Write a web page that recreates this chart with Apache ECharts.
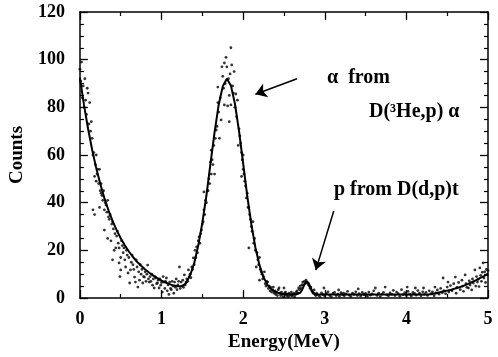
<!DOCTYPE html>
<html>
<head>
<meta charset="utf-8">
<script src="https://cdn.jsdelivr.net/npm/echarts@6/dist/echarts.min.js"></script>
<style>
html,body{margin:0;padding:0;background:#fff;}
#chart{width:498px;height:357px;}
</style>
</head>
<body>
<div id="chart"></div>
<script>
// ---- data ----
const xTicks = [0, 1, 2, 3, 4, 5];
const yTicks = [0, 20, 40, 60, 80, 100, 120];

const fitEnergy = [0,0.05,0.1,0.15,0.2,0.25,0.3,0.35,0.4,0.45,0.5,0.55,0.6,0.65,0.7,0.75,0.8,0.85,0.9,0.95,
  1.0,1.05,1.1,1.15,1.2,1.25,1.3,1.35,1.4,1.45,1.5,1.55,1.6,1.65,1.7,1.75,1.8,1.85,1.9,1.95,
  2.0,2.05,2.1,2.15,2.2,2.25,2.3,2.35,2.4,2.45,2.5,2.55,2.6,2.65,2.7,2.725,2.75,2.775,2.8,2.825,2.85,2.875,2.9,2.95,
  3.0,3.25,3.5,3.75,4.0,4.25,4.3,4.35,4.4,4.45,4.5,4.55,4.6,4.65,4.7,4.75,4.8,4.85,4.9,4.95,5.0];
const fitCounts = [92.5,81.0,71.0,62.2,54.5,47.8,41.9,36.8,32.4,28.5,25.1,22.1,19.5,17.2,15.2,13.5,12.0,10.6,9.4,8.3,
  7.3,6.5,5.8,5.2,4.9,5.0,6.2,9.5,14.5,22.0,31.5,43.0,56.5,69.5,81.0,88.8,92.0,89.2,81.4,69.9,
  56.5,43.0,31.0,21.2,13.8,8.7,5.4,3.5,2.5,1.9,1.7,1.6,1.5,1.6,2.2,3.6,5.6,7.0,6.4,4.4,2.7,1.8,1.6,1.5,
  1.5,1.5,1.5,1.5,1.5,1.5,1.6,1.9,2.3,2.7,3.1,3.5,4.0,4.5,5.1,5.8,6.6,7.4,8.3,9.2,10.2];

const measured = [
 [0.00,96],[0.01,91],[0.02,99],[0.03,84],[0.04,89],[0.05,80],[0.06,92],[0.07,83],[0.08,77],[0.09,88],
 [0.10,86],[0.11,73],[0.12,82],[0.13,70],[0.14,74],[0.15,67],[0.16,60],[0.16,37],[0.17,61],[0.18,51],
 [0.18,35],[0.19,56],[0.20,49],[0.20,60],[0.21,52],[0.22,54],[0.23,48],[0.24,54],[0.24,38],[0.25,45],
 [0.26,48],[0.26,44],[0.27,43],[0.28,41],[0.29,45],[0.30,37],[0.30,28.5],[0.31,40],[0.32,39],[0.33,36],
 [0.34,41],[0.34,25],[0.35,34],[0.36,33],[0.37,35],[0.38,24],[0.39,31],[0.40,32],[0.40,16],[0.41,29],
 [0.42,20],[0.43,27],[0.44,21],[0.45,26],[0.46,28],[0.47,23],[0.48,21],[0.48,14.7],[0.49,9],[0.50,17],
 [0.50,11.8],[0.51,24],[0.52,22],[0.53,19],[0.54,21],[0.55,16],[0.56,13],[0.57,20],[0.58,18],[0.59,10.5],
 [0.60,17],[0.61,6.3],[0.62,11.8],[0.63,15],[0.64,18],[0.65,14],[0.66,12],[0.67,8.8],[0.68,6.7],[0.69,16],
 [0.70,13],[0.71,4.6],[0.72,11],[0.73,7.5],[0.74,14],[0.75,10],[0.76,12],[0.77,6.3],[0.78,9],[0.79,8.8],
 [0.80,11],[0.81,7],[0.82,10],[0.83,13.8],[0.84,8],[0.85,6.7],[0.86,9],[0.87,7],[0.88,10],[0.89,5.4],
 [0.90,8],[0.91,4.2],[0.92,9],[0.93,8.4],[0.94,6],[0.95,6.3],[0.96,7.5],[0.97,4.2],[0.98,8],[0.99,5.4],
 [1.00,6.5],[1.01,2.5],[1.02,9],[1.03,6.7],[1.04,4],[1.05,7],[1.06,8.4],[1.07,3],[1.08,5.5],[1.09,1.5],
 [1.10,6.7],[1.11,4],[1.12,3.5],[1.13,7],[1.14,5],[1.15,2],[1.16,6.7],[1.17,4.5],[1.18,8],[1.19,3.5],
 [1.20,5.5],[1.21,7],[1.22,13],[1.23,4],[1.24,6.7],[1.25,5],[1.26,7.5],[1.27,4.5],[1.28,9.7],[1.29,5.5],
 [1.30,6.7],[1.31,8],[1.32,7],[1.33,11.8],[1.34,9],[1.35,10],[1.36,8.5],[1.37,13],[1.38,12],[1.39,16.8],
 [1.40,14],[1.41,20],[1.42,17],[1.43,21.4],[1.44,19],[1.45,24],[1.46,25.6],[1.47,23],[1.48,27],[1.49,28.5],
 [1.50,31],[1.51,32],[1.52,37],[1.52,44.5],[1.53,35],[1.54,41],[1.55,40],[1.56,45],[1.57,45],[1.58,50],
 [1.59,48],[1.60,57],[1.61,52],[1.61,62],[1.62,58],[1.63,56],[1.64,64],[1.65,52],[1.66,67],[1.67,70.5],
 [1.68,72],[1.69,88.5],[1.69,82],[1.70,78],[1.71,67],[1.72,84],[1.73,74.7],[1.74,97],[1.75,93],[1.76,88],
 [1.77,98.6],[1.77,81],[1.78,90],[1.79,101],[1.80,97],[1.81,80.6],[1.82,92],[1.83,85],[1.83,74],[1.84,94],
 [1.85,105],[1.85,81],[1.86,97.8],[1.87,89],[1.88,86],[1.89,95],[1.90,80],[1.91,85.6],[1.92,76],[1.93,83],
 [1.94,64],[1.95,71],[1.96,68],[1.97,65],[1.98,61],[1.98,51],[1.99,58],[2.00,60],[2.00,54],[2.01,52],
 [2.02,49],[2.03,47],[2.04,42],[2.05,44],[2.06,38],[2.07,21],[2.07,38],[2.08,35],[2.09,33],[2.10,30],
 [2.11,28],[2.12,32],[2.13,23],[2.14,25],[2.15,20],[2.16,13],[2.17,19],[2.18,16],[2.19,14],[2.20,17],
 [2.20,7.5],[2.21,12],[2.22,11],[2.23,10],[2.24,8],[2.25,9],[2.26,11],[2.27,6],[2.28,5],[2.29,7],
 [2.30,6.7],[2.31,4],[2.32,5],[2.33,3],[2.34,4.5],[2.35,2.5],[2.36,3.5],[2.37,4.6],[2.38,2],[2.39,3],
 [2.40,1.5],[2.41,2.5],[2.42,1],[2.43,3.5],[2.44,4.2],[2.45,2],[2.46,1],[2.47,2.5],[2.48,1.5],[2.49,0.5],
 [2.50,4.2],[2.51,2],[2.52,2.5],[2.53,1],[2.54,1.5],[2.55,0.5],[2.56,2],[2.57,1],[2.58,1.5],[2.59,2.5],
 [2.60,0.8],[2.61,1.5],[2.62,2],[2.63,0.5],[2.64,1.5],[2.65,2.5],[2.66,3],[2.67,2],[2.68,4.2],[2.69,3.5],
 [2.70,5],[2.71,4],[2.72,5.5],[2.73,6.7],[2.74,5.5],[2.75,7],[2.76,6],[2.77,7.5],[2.78,6.5],[2.79,6.3],
 [2.80,5.5],[2.81,5],[2.82,4],[2.83,4.6],[2.84,3],[2.85,2.5],[2.86,2],[2.87,3.4],[2.88,1.5],[2.89,1],
 [2.90,2],[2.92,1.2],[2.94,0.6],[2.96,2.1],[2.98,1.4],[2.99,4.2],[3.00,0.8],[3.02,1.8],[3.04,2.6],[3.06,1.1],
 [3.08,0.5],[3.10,1.9],[3.12,2.4],[3.14,1.0],[3.16,1.6],[3.17,3.4],[3.18,0.7],[3.20,2.2],[3.22,1.3],[3.23,2.0],
 [3.24,0.9],[3.26,1.7],[3.28,2.8],[3.30,1.2],[3.32,0.6],[3.34,2.0],[3.36,1.5],[3.38,2.6],[3.40,1.0],[3.41,3.8],
 [3.42,1.8],[3.44,0.8],[3.46,2.3],[3.48,1.4],[3.50,1.9],[3.52,0.7],[3.54,2.5],[3.56,1.2],[3.58,1.7],[3.60,3.0],
 [3.62,4.2],[3.64,1.1],[3.66,2.0],[3.68,0.6],[3.70,1.6],[3.72,2.4],[3.74,4.6],[3.76,1.3],[3.78,0.9],[3.80,2.1],
 [3.82,1.5],[3.84,3.2],[3.86,1.0],[3.88,2.5],[3.90,1.8],[3.92,0.7],[3.94,3.5],[3.96,1.4],[3.98,2.2],[4.00,1.1],
 [4.01,4.6],[4.02,2.8],[4.04,1.6],[4.06,0.8],[4.08,2.3],[4.10,1.9],[4.11,4.2],[4.12,1.2],[4.14,3.1],[4.16,2.0],
 [4.18,0.9],[4.20,2.6],[4.21,4.2],[4.22,1.5],[4.24,2.4],[4.26,1.1],[4.28,3.0],[4.30,1.8],[4.32,2.6],[4.34,0.9],
 [4.35,4.6],[4.36,2.1],[4.38,3.4],[4.40,1.6],[4.42,4.0],[4.44,2.2],[4.45,8.4],[4.46,3.1],[4.48,1.8],[4.50,4.6],
 [4.51,6.7],[4.52,2.5],[4.54,5.2],[4.56,3.0],[4.58,6.0],[4.60,8.8],[4.61,2.0],[4.62,4.4],[4.64,6.5],[4.66,3.5],
 [4.68,7.5],[4.69,5.0],[4.70,2.8],[4.72,9.7],[4.73,6.0],[4.74,4.5],[4.76,4.2],[4.77,7.2],[4.78,5.5],[4.80,3.4],
 [4.81,8.0],[4.82,6.3],[4.84,11.8],[4.85,5.0],[4.86,9.0],[4.87,6.7],[4.88,7.8],[4.89,4.8],[4.90,12.6],[4.91,9.5],
 [4.92,7.0],[4.93,10.8],[4.94,14.7],[4.95,8.4],[4.96,11.0],[4.97,6.5],[4.98,12.0],[4.99,9.7],[5.00,11.5]
];

// annotation arrows (tail -> head) in data coordinates
const arrowAlpha = [[2.66, 92], [2.15, 85.5]];
const arrowProton = [[3.11, 36.5], [2.89, 11.7]];
const labelAlpha1 = 'α  from';
const labelAlpha2 = 'D(³He,p) α';
const labelProton = 'p from D(d,p)t';

// ---- chart ----
const FONT = '"Liberation Serif","DejaVu Serif",serif';
const chart = echarts.init(document.getElementById('chart'), null, {renderer: 'canvas'});
const fitData = fitEnergy.map((e, i) => [e, fitCounts[i]]);

const axisCommon = {
  type: 'value',
  axisLine: {show: true, onZero: false, lineStyle: {color: '#000', width: 1.5}},
  axisTick: {show: true, inside: true, length: 8, lineStyle: {color: '#000', width: 1.3}},
  minorTick: {show: true, length: 4, lineStyle: {color: '#000', width: 1.2}},
  splitLine: {show: false},
  minorSplitLine: {show: false}
};

chart.setOption({
  animation: false,
  backgroundColor: '#fff',
  grid: {left: 78, right: 10, top: 12, bottom: 59, containLabel: false},
  xAxis: [
    Object.assign({}, axisCommon, {
      min: xTicks[0], max: xTicks[xTicks.length - 1], interval: 1, position: 'bottom',
      minorTick: Object.assign({}, axisCommon.minorTick, {splitNumber: 2}),
      axisLabel: {show: true, margin: 12, color: '#000', fontFamily: FONT, fontSize: 18, fontWeight: 'bold'},
      name: 'Energy(MeV)', nameLocation: 'middle', nameGap: 34,
      nameTextStyle: {color: '#000', fontFamily: FONT, fontSize: 19, fontWeight: 'bold'}
    }),
    Object.assign({}, axisCommon, {
      min: xTicks[0], max: xTicks[xTicks.length - 1], interval: 1, position: 'top',
      minorTick: Object.assign({}, axisCommon.minorTick, {splitNumber: 2}),
      axisLabel: {show: false}
    })
  ],
  yAxis: [
    Object.assign({}, axisCommon, {
      min: yTicks[0], max: yTicks[yTicks.length - 1], interval: 20, position: 'left',
      minorTick: Object.assign({}, axisCommon.minorTick, {splitNumber: 4}),
      axisLabel: {show: true, margin: 15, color: '#000', fontFamily: FONT, fontSize: 18, fontWeight: 'bold'},
      name: 'Counts', nameLocation: 'middle', nameGap: 42, nameRotate: 90,
      nameTextStyle: {color: '#000', fontFamily: FONT, fontSize: 19, fontWeight: 'bold'}
    }),
    Object.assign({}, axisCommon, {
      min: yTicks[0], max: yTicks[yTicks.length - 1], interval: 20, position: 'right',
      minorTick: Object.assign({}, axisCommon.minorTick, {splitNumber: 4}),
      axisLabel: {show: false}
    })
  ],
  series: [
    {
      type: 'scatter',
      data: measured,
      symbol: 'circle',
      symbolSize: 2.8,
      itemStyle: {color: '#000'},
      silent: true
    },
    {
      type: 'line',
      data: fitData,
      showSymbol: false,
      smooth: false,
      lineStyle: {color: '#000', width: 2},
      silent: true,
      markLine: {
        silent: true,
        symbol: ['none', 'arrow'],
        symbolSize: 11,
        label: {show: false},
        lineStyle: {color: '#000', width: 1.5, type: 'solid'},
        emphasis: {disabled: true},
        data: [
          [{coord: arrowAlpha[0]}, {coord: arrowAlpha[1]}],
          [{coord: arrowProton[0]}, {coord: arrowProton[1]}]
        ]
      }
    }
  ],
  graphic: [
    {type: 'text', left: 327, top: 68, style: {text: labelAlpha1, fill: '#000', font: 'bold 20px ' + FONT}},
    {type: 'text', left: 369, top: 102, style: {text: labelAlpha2, fill: '#000', font: 'bold 20px ' + FONT}},
    {type: 'text', left: 334, top: 180, style: {text: labelProton, fill: '#000', font: 'bold 20px ' + FONT}}
  ]
});
</script>
</body>
</html>
